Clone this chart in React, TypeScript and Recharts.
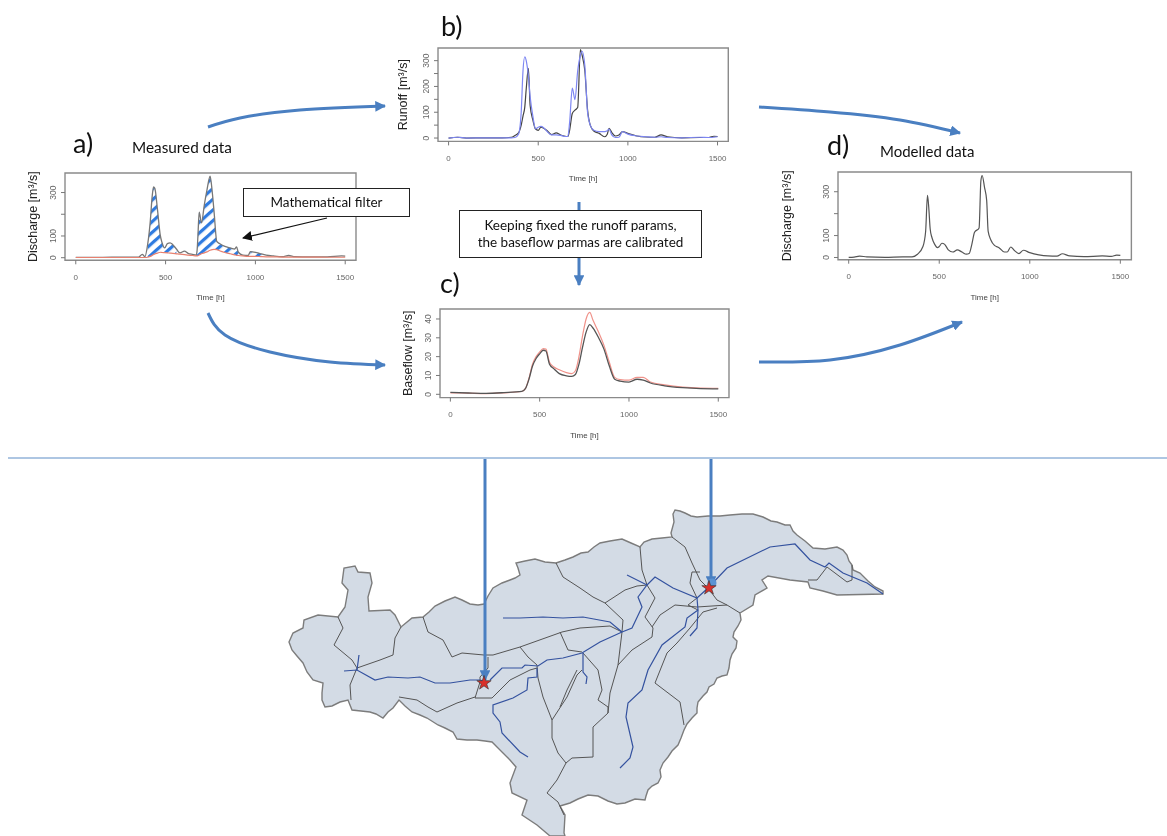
import { Area, ComposedChart, Line, ReferenceArea, Scatter, XAxis, YAxis } from "recharts"

const FONT = '"Liberation Sans", Arial, sans-serif'
const BLUE = "#4a7fc1"

const timeTicks = [0, 500, 1000, 1500]

// a) measured discharge and the filtered baseflow
const aTime = [0, 100, 200, 300, 350, 370, 385, 400, 415, 425, 433, 440, 455, 470, 480, 495, 510, 525, 540, 560, 580, 605, 625, 650, 670, 675, 680, 687, 700, 715, 730, 748, 760, 770, 785, 800, 830, 860, 885, 895, 905, 930, 960, 972, 1000, 1030, 1060, 1100, 1150, 1185, 1220, 1300, 1400, 1480, 1500]
const aDischarge = [1, 1, 2, 2, 3, 15, 5, 60, 170, 280, 326, 320, 220, 105, 70, 45, 65, 68, 60, 40, 22, 30, 20, 15, 12, 30, 100, 210, 160, 240, 310, 375, 300, 210, 75, 65, 52, 45, 40, 50, 25, 12, 10, 28, 25, 18, 12, 8, 5, 10, 5, 4, 4, 8, 7]
const aBase = [1, 1, 1, 1, 1, 1, 1, 2, 6, 10, 15, 17, 21, 25, 24, 23, 22, 21, 20, 18, 16, 14, 12, 10, 8, 8, 9, 12, 18, 22, 27, 34, 37, 38, 37, 32, 24, 18, 13, 11, 10, 8, 6, 6, 6, 5, 4, 4, 3, 3, 3, 3, 2, 2, 2]
const hatchWindows = [[400, 560], [670, 905], [972, 1060]]

// b) runoff
const bTime = [0, 50, 100, 200, 300, 350, 370, 390, 405, 415, 425, 433, 445, 455, 470, 485, 500, 515, 530, 550, 575, 600, 625, 650, 665, 675, 690, 705, 720, 735, 745, 760, 775, 790, 810, 840, 870, 885, 895, 910, 930, 950, 970, 1000, 1050, 1100, 1150, 1185, 1220, 1300, 1400, 1450, 1480, 1500]
const bModel = [0, 3, 0, 1, 1, 3, 10, 20, 50, 85, 120, 190, 270, 125, 70, 35, 30, 42, 38, 28, 13, 20, 12, 7, 6, 30, 95, 108, 118, 343, 320, 260, 110, 50, 27, 18, 5, 15, 38, 22, 8, 12, 25, 18, 8, 4, 3, 12, 5, 1, 2, 2, 7, 6]
const bRunoff = [0, 3, 0, 1, 1, 1, 2, 15, 100, 260, 315, 300, 240, 160, 85, 35, 42, 45, 40, 25, 12, 12, 10, 6, 6, 60, 194, 149, 260, 320, 336, 280, 100, 50, 30, 25, 25, 28, 35, 12, 2, 3, 25, 15, 8, 5, 3, 5, 2, 1, 3, 2, 3, 5]

// c) baseflow
const cTime = [0, 100, 200, 300, 400, 420, 440, 460, 480, 500, 520, 535, 555, 580, 610, 650, 680, 700, 720, 740, 760, 780, 800, 830, 860, 890, 920, 950, 1000, 1045, 1080, 1120, 1200, 1300, 1400, 1500]
const cModel = [1, 0.7, 0.5, 0.9, 1.6, 3, 8, 15, 19, 21.5, 23.4, 23, 16, 13.5, 11, 9.8, 9.5, 10.5, 16, 25, 33, 37, 35, 30, 24, 15, 8, 7, 6.5, 8, 7.5, 6, 4.5, 3.5, 3, 2.9]
const cBaseflow = [0.8, 0.6, 0.4, 0.8, 1.5, 3, 8.5, 16, 20, 22.5, 24.3, 24, 17, 14.5, 13, 11.5, 11, 12.5, 20, 31, 40, 43.5, 39, 33, 26, 17, 9, 7.8, 7.5, 9, 9, 6.5, 5, 3.8, 3.3, 3.2]

// d) modelled discharge
const dTime = [0, 30, 60, 100, 200, 300, 350, 380, 410, 425, 435, 442, 450, 460, 475, 490, 500, 515, 530, 550, 575, 600, 625, 650, 665, 680, 695, 720, 730, 737, 750, 762, 770, 785, 805, 830, 860, 875, 895, 915, 940, 965, 1000, 1050, 1100, 1150, 1180, 1220, 1300, 1400, 1450, 1480, 1500]
const dDischarge = [1, 2, 6, 3, 1, 3, 3, 15, 50, 120, 283, 230, 130, 90, 60, 45, 50, 65, 60, 35, 25, 35, 25, 15, 18, 60, 115, 135, 350, 374, 320, 260, 120, 80, 55, 45, 25, 25, 48, 32, 18, 33, 22, 12, 7, 6, 17, 7, 4, 7, 5, 11, 10]

// map layer, read in picture pixels
const basinOutline = [
  [289, 642], [293, 633], [303, 628], [304, 620], [318, 615], [338, 617], [345, 607], [348, 590], [342, 583], [344, 568], [355, 566], [358, 572], [370, 573], [372, 583], [368, 597], [369, 611], [390, 610], [395, 615], [401, 627], [412, 618], [423, 617],
  [429, 612], [435, 606], [445, 601], [455, 597], [462, 600], [470, 604], [478, 605], [484, 604], [488, 596], [493, 588], [502, 583], [510, 580], [515, 578], [520, 575], [518, 568], [516, 563], [525, 561], [535, 559], [545, 562], [556, 563], [565, 560], [573, 557],
  [581, 553], [588, 552], [594, 547], [600, 543], [610, 541], [622, 539], [631, 543], [640, 547], [644, 542], [652, 539], [662, 538], [672, 537], [671, 533], [674, 522], [673, 514], [675, 510], [680, 511], [685, 513], [691, 516], [697, 517], [708, 516], [720, 516], [730, 515], [742, 514], [753, 514], [763, 517], [771, 521], [777, 522], [785, 525], [790, 525], [793, 531], [797, 535], [805, 541], [813, 548], [825, 549], [837, 547], [843, 550], [847, 555], [849, 561], [852, 565], [853, 570], [860, 573], [868, 581], [875, 587], [883, 591],
  [883, 594], [837, 595], [823, 591], [810, 588], [808, 582], [790, 580], [768, 576], [762, 580], [767, 588], [755, 595], [753, 605], [740, 613],
  [741, 620], [738, 626], [734, 632], [733, 637], [737, 641], [736, 648], [732, 654], [730, 660], [729, 668], [727, 675], [722, 676], [717, 678], [714, 684], [709, 687], [707, 692], [703, 696], [698, 702], [697, 708], [697, 713], [692, 718], [687, 724], [684, 730], [681, 738], [678, 745], [672, 751], [668, 757], [663, 763], [660, 770], [661, 777], [658, 783], [652, 786], [648, 790], [646, 796], [645, 800], [635, 799], [625, 803], [617, 804], [608, 801], [598, 796], [588, 795], [578, 799], [570, 803], [560, 806],
  [565, 815], [564, 833], [565, 836], [550, 836], [537, 825], [522, 815], [527, 800], [512, 793], [510, 783], [516, 767],
  [510, 760], [503, 753], [497, 747], [492, 742], [485, 741], [477, 740], [467, 740], [457, 739], [453, 732], [445, 728], [438, 725], [427, 718], [420, 715], [412, 712], [405, 706], [399, 700], [393, 708], [388, 712], [383, 718], [376, 714], [370, 712], [361, 711], [352, 710], [348, 700], [340, 702], [332, 706], [325, 707], [322, 700], [322, 693], [323, 683], [313, 680], [307, 672], [303, 663], [297, 656], [292, 650], [289, 642],
]
const divides = [
  [[338, 617], [343, 628], [334, 645], [352, 660], [357, 668], [350, 685], [351, 700]],
  [[357, 668], [380, 660], [393, 655], [395, 638], [401, 627]],
  [[423, 617], [428, 632], [443, 640], [452, 657], [462, 653], [484, 655], [493, 655], [520, 647], [562, 632], [580, 628], [610, 626], [622, 632]],
  [[488, 657], [488, 668], [480, 677], [480, 682], [475, 698], [492, 698], [510, 680], [530, 670], [537, 668]],
  [[399, 697], [417, 700], [428, 707], [437, 712], [457, 703], [475, 697]],
  [[520, 647], [528, 657], [537, 665], [538, 678], [543, 697], [552, 720], [552, 738], [558, 753], [566, 763]],
  [[552, 720], [567, 697], [577, 675], [582, 670]],
  [[566, 763], [572, 758], [593, 757], [593, 727], [608, 713], [608, 707], [598, 700], [602, 690], [598, 670], [583, 653]],
  [[566, 763], [557, 780], [547, 793], [558, 802], [564, 815]],
  [[560, 632], [568, 650], [582, 652]],
  [[577, 670], [567, 690], [560, 707]],
  [[622, 632], [618, 665], [610, 693], [608, 713]],
  [[618, 665], [632, 650], [652, 637], [653, 628], [645, 617], [655, 598], [647, 585], [637, 586], [625, 590], [605, 603]],
  [[605, 603], [623, 620], [622, 632]],
  [[605, 603], [593, 597], [580, 588], [563, 577], [556, 563]],
  [[640, 547], [642, 570], [647, 585]],
  [[672, 537], [685, 547], [692, 563], [700, 580], [708, 588]],
  [[700, 572], [692, 572], [690, 583], [697, 598], [688, 605], [698, 610]],
  [[708, 588], [717, 600], [727, 605], [740, 613]],
  [[652, 627], [660, 615], [675, 605], [697, 607], [727, 605]],
  [[717, 608], [703, 612], [690, 628], [677, 643], [667, 653], [655, 683], [680, 702], [684, 725]],
  [[808, 580], [817, 580], [827, 567], [847, 582], [852, 580], [852, 565]],
]
const rivers = [
  [[344, 671], [357, 670], [375, 680], [388, 677], [408, 678], [420, 677], [435, 683], [450, 683], [470, 680], [480, 680], [487, 682]],
  [[359, 655], [357, 670]],
  [[490, 680], [502, 668], [522, 668], [525, 665], [538, 666], [547, 660], [563, 658], [582, 653], [600, 642], [622, 632], [632, 628], [642, 607], [638, 597], [647, 585], [655, 577], [673, 588], [697, 598], [708, 588], [727, 568], [770, 547], [795, 544], [810, 560], [825, 567], [829, 563], [843, 573], [867, 583], [883, 594]],
  [[503, 618], [520, 618], [543, 617], [563, 618], [583, 617], [610, 622], [622, 632]],
  [[537, 668], [537, 677], [528, 678], [527, 690], [513, 698], [493, 705], [493, 713], [500, 722], [502, 733], [520, 752], [528, 757]],
  [[583, 653], [583, 672], [587, 677], [586, 684]],
  [[627, 575], [643, 583], [647, 585]],
  [[698, 610], [687, 618], [685, 627], [662, 645], [648, 670], [642, 690], [628, 703], [626, 717], [633, 747], [630, 758], [620, 768]],
  [[697, 598], [698, 610], [697, 628], [690, 636]],
]
const gauges = [[484, 683], [709, 588]]
const gaugeHalo = [[712, 583]]

// arrows, read in picture pixels
const curvedArrows = [
  [[208, 127], [240, 118], [300, 110], [385, 106]],
  [[759, 107], [830, 112], [900, 120], [960, 133]],
  [[208, 313], [225, 335], [270, 352], [330, 362], [385, 365]],
  [[759, 362], [830, 360], [900, 345], [962, 322]],
]
const straightArrows = [
  [[485, 459], [485, 680]],
  [[711, 459], [711, 586]],
  [[579, 258], [579, 285]],
]
const stubLine = [[579, 202], [579, 212]]
const filterPointer = [[327, 218], [243, 238]]
const separator = [[8, 458], [1167, 458]]

const toPoints = (list: number[][]) => list.map(([x, y]) => ({ x, y }))

const aData = aTime.map((t, i) => ({ t, q: aDischarge[i], base: aBase[i] }))
const bData = bTime.map((t, i) => ({ t, model: bModel[i], obs: bRunoff[i] }))
const cData = cTime.map((t, i) => ({ t, model: cModel[i], obs: cBaseflow[i] }))
const dData = dTime.map((t, i) => ({ t, q: dDischarge[i] }))

function hatchValue(d: { t: number; q: number; base: number }) {
  return hatchWindows.some(([a, b]) => d.t >= a && d.t <= b) ? [d.base, d.q] : null
}

function RotatedTick({ x, y, payload, labels }: any) {
  if (!labels.includes(payload.value)) return null
  return (
    <text
      x={x - 3}
      y={y}
      transform={`rotate(-90 ${x - 3} ${y})`}
      textAnchor="middle"
      fontSize={8.5}
      fontFamily={FONT}
      fill="#666"
    >
      {payload.value}
    </text>
  )
}

const ML = 60
const MB = 48
const MT = 4
const MR = 8

function Panel({ left, top, w, h, data, xDomain, yDomain, yTicks, yLabels, yTitle, titleGap, children }: any) {
  return (
    <div style={{ position: "absolute", left: left - ML, top: top - MT }}>
      <ComposedChart
        width={w + ML + MR}
        height={h + MT + MB}
        data={data}
        margin={{ top: MT, right: MR, bottom: 0, left: 0 }}
      >
        <defs>
          <pattern
            id="hatch"
            width="8"
            height="8"
            patternUnits="userSpaceOnUse"
            patternTransform="rotate(-42)"
          >
            <rect width="8" height="8" fill="#fff" />
            <rect width="8" height="3.2" fill="#2f7be0" />
          </pattern>
        </defs>
        <XAxis
          dataKey="t"
          type="number"
          domain={xDomain}
          ticks={timeTicks}
          interval={0}
          height={MB}
          axisLine={false}
          tickLine={{ stroke: "#777" }}
          tickSize={4}
          tickMargin={10}
          tick={{ fontSize: 8, fontFamily: FONT, fill: "#666" }}
          label={{ value: "Time [h]", position: "insideBottom", offset: 8, fontSize: 8, fontFamily: FONT, fill: "#444" }}
        />
        <YAxis
          type="number"
          domain={yDomain}
          ticks={yTicks}
          interval={0}
          width={ML}
          axisLine={false}
          tickLine={{ stroke: "#777" }}
          tickSize={4}
          tick={<RotatedTick labels={yLabels} />}
          label={{ value: yTitle, angle: -90, position: "insideLeft", offset: ML - titleGap, fontSize: 12.5, fontFamily: FONT, fill: "#222", style: { textAnchor: "middle" } }}
        />
        {children}
        <ReferenceArea
          x1={xDomain[0]}
          x2={xDomain[1]}
          y1={yDomain[0]}
          y2={yDomain[1]}
          fill="none"
          stroke="#8a8a8a"
          strokeWidth={1.4}
          ifOverflow="visible"
        />
      </ComposedChart>
    </div>
  )
}

function Caption({ x, y, size, children }: any) {
  return (
    <div
      style={{
        position: "absolute",
        left: x,
        top: y,
        fontFamily: "Lato, sans-serif",
        fontSize: size,
        lineHeight: 1,
        color: "#111",
        whiteSpace: "nowrap",
      }}
    >
      {children}
    </div>
  )
}

function NoteBox({ x, y, w, h, lines }: any) {
  return (
    <div
      style={{
        position: "absolute",
        left: x,
        top: y,
        width: w,
        height: h,
        boxSizing: "border-box",
        border: "1px solid #222",
        background: "#fff",
        display: "flex",
        flexDirection: "column",
        justifyContent: "center",
        alignItems: "center",
        fontFamily: "Lato, sans-serif",
        fontSize: 13.5,
        lineHeight: "17px",
        color: "#111",
      }}
    >
      {lines.map((l: string) => (
        <div key={l}>{l}</div>
      ))}
    </div>
  )
}

function polyShape(p: any) {
  const d = p.points.map((q: any, i: number) => `${i ? "L" : "M"}${q.x},${q.y}`).join(" ") + " Z"
  return <path d={d} fill="#d3dbe5" stroke="#7c7c7c" strokeWidth={1.4} />
}

const PAGE_MARGIN = { top: 0, right: 0, bottom: 0, left: 0 }

function BasinLayer() {
  return (
    <div style={{ position: "absolute", left: 0, top: 0 }}>
      <ComposedChart width={1167} height={836} margin={PAGE_MARGIN}>
        <XAxis dataKey="x" type="number" domain={[0, 1167]} hide />
        <YAxis dataKey="y" type="number" domain={[0, 836]} reversed hide />
        <Scatter data={toPoints(basinOutline)} line={polyShape} shape={() => null} isAnimationActive={false} />
      </ComposedChart>
    </div>
  )
}

function PathLayer() {
  return (
    <div style={{ position: "absolute", left: 0, top: 0 }}>
      <ComposedChart width={1167} height={836} margin={PAGE_MARGIN}>
        <defs>
          <marker id="headBlue" viewBox="0 0 10 10" refX="9" refY="5" markerWidth="3.6" markerHeight="3.6" orient="auto">
            <path d="M0,0 L10,5 L0,10 z" fill={BLUE} />
          </marker>
          <marker id="headBlack" viewBox="0 0 10 10" refX="9" refY="5" markerWidth="9" markerHeight="9" orient="auto">
            <path d="M0,0 L10,5 L0,10 z" fill="#111" />
          </marker>
        </defs>
        <XAxis dataKey="x" type="number" domain={[0, 1167]} hide />
        <YAxis dataKey="y" type="number" domain={[0, 836]} reversed hide />
        {divides.map((d, i) => (
          <Line key={`divide${i}`} data={toPoints(d)} dataKey="y" stroke="#555" strokeWidth={1} dot={false} activeDot={false} isAnimationActive={false} />
        ))}
        {rivers.map((d, i) => (
          <Line key={`river${i}`} data={toPoints(d)} dataKey="y" stroke="#34529f" strokeWidth={1.2} dot={false} activeDot={false} isAnimationActive={false} />
        ))}
        <Line data={toPoints(separator)} dataKey="y" stroke="#5c8dc6" strokeWidth={1} dot={false} activeDot={false} isAnimationActive={false} />
        <Line data={toPoints(stubLine)} dataKey="y" stroke={BLUE} strokeWidth={3} dot={false} activeDot={false} isAnimationActive={false} />
        {straightArrows.map((d, i) => (
          <Line key={`straight${i}`} data={toPoints(d)} dataKey="y" stroke={BLUE} strokeWidth={3} dot={false} activeDot={false} markerEnd="url(#headBlue)" isAnimationActive={false} />
        ))}
        {curvedArrows.map((d, i) => (
          <Line key={`curve${i}`} type="natural" data={toPoints(d)} dataKey="y" stroke={BLUE} strokeWidth={3} dot={false} activeDot={false} markerEnd="url(#headBlue)" isAnimationActive={false} />
        ))}
        <Line data={toPoints(filterPointer)} dataKey="y" stroke="#111" strokeWidth={1.1} dot={false} activeDot={false} markerEnd="url(#headBlack)" isAnimationActive={false} />
        <Scatter data={toPoints(gaugeHalo)} shape="circle" fill="#5b93d3" isAnimationActive={false} />
        <Scatter data={toPoints(gauges)} shape="star" fill="#d8302a" stroke="#333" strokeWidth={0.6} isAnimationActive={false} />
      </ComposedChart>
    </div>
  )
}

export default function App() {
  return (
    <div style={{ position: "absolute", left: 0, top: 0, width: 1167, height: 836, background: "#fff", overflow: "hidden", filter: "blur(0.35px)" }}>
      <BasinLayer />
      <Panel left={65} top={172.7} w={291} h={87.3} data={aData} xDomain={[-60, 1560]} yDomain={[-12, 390]} yTicks={[0, 100, 200, 300]} yLabels={[0, 100, 300]} yTitle="Discharge [m³/s]" titleGap={32}>
        <Area dataKey={hatchValue} type="monotone" stroke="none" fill="url(#hatch)" fillOpacity={1} isAnimationActive={false} />
        <Line dataKey="q" type="monotone" stroke="#777" strokeWidth={1.3} dot={false} activeDot={false} isAnimationActive={false} />
        <Line dataKey="base" type="monotone" stroke="#e8806f" strokeWidth={1.2} dot={false} activeDot={false} isAnimationActive={false} />
      </Panel>
      <Panel left={437.7} top={48.3} w={290.3} h={93.4} data={bData} xDomain={[-59, 1560]} yDomain={[-13, 349]} yTicks={[0, 50, 100, 150, 200, 250, 300]} yLabels={[0, 100, 200, 300]} yTitle="Runoff [m³/s]" titleGap={35}>
        <Line dataKey="model" type="monotone" stroke="#444" strokeWidth={1.2} dot={false} activeDot={false} isAnimationActive={false} />
        <Line dataKey="obs" type="monotone" stroke="#7d86f2" strokeWidth={1.2} dot={false} activeDot={false} isAnimationActive={false} />
      </Panel>
      <Panel left={440} top={308.7} w={289} h={88.6} data={cData} xDomain={[-58, 1560]} yDomain={[-1.75, 45.3]} yTicks={[0, 10, 20, 30, 40]} yLabels={[0, 10, 20, 30, 40]} yTitle="Baseflow [m³/s]" titleGap={32}>
        <Line dataKey="obs" type="monotone" stroke="#f0928a" strokeWidth={1.2} dot={false} activeDot={false} isAnimationActive={false} />
        <Line dataKey="model" type="monotone" stroke="#555" strokeWidth={1.3} dot={false} activeDot={false} isAnimationActive={false} />
      </Panel>
      <Panel left={838.3} top={172.3} w={293.4} h={87.7} data={dData} xDomain={[-59, 1561]} yDomain={[-10, 390]} yTicks={[0, 100, 200, 300]} yLabels={[0, 100, 300]} yTitle="Discharge [m³/s]" titleGap={51}>
        <Line dataKey="q" type="monotone" stroke="#555" strokeWidth={1.2} dot={false} activeDot={false} isAnimationActive={false} />
      </Panel>

      <PathLayer />

      <NoteBox x={243} y={188} w={167} h={29} lines={["Mathematical filter"]} />
      <NoteBox x={459} y={210} w={243} h={48} lines={["Keeping fixed the runoff params,", "the baseflow parmas are calibrated"]} />

      <Caption x={73} y={129} size={27}>a)</Caption>
      <Caption x={441} y={12} size={27}>b)</Caption>
      <Caption x={440} y={269} size={27}>c)</Caption>
      <Caption x={827} y={131} size={27}>d)</Caption>
      <Caption x={132} y={140} size={15.3}>Measured data</Caption>
      <Caption x={880} y={144} size={15}>Modelled data</Caption>
    </div>
  )
}
